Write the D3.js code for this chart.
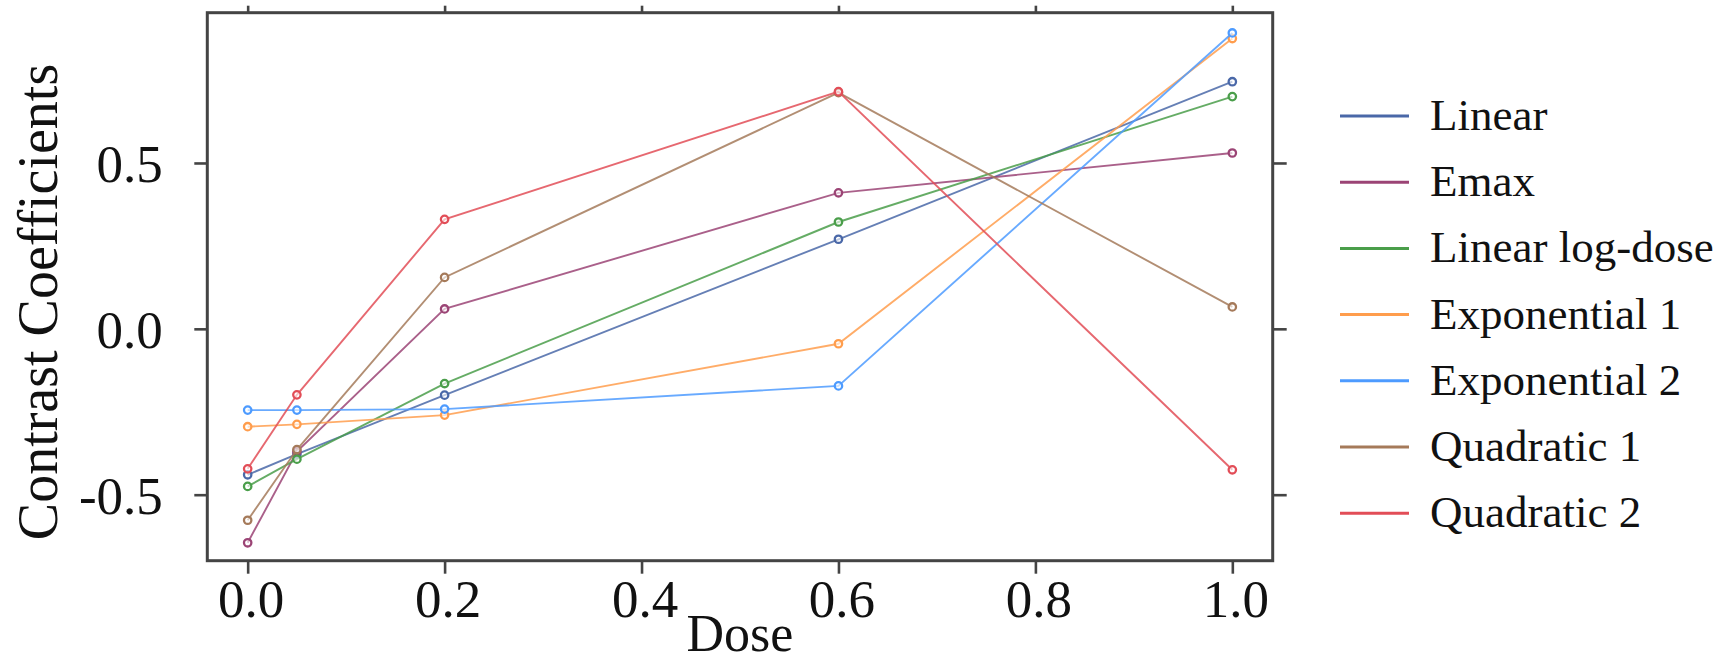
<!DOCTYPE html>
<html>
<head>
<meta charset="utf-8">
<script src="https://cdn.jsdelivr.net/npm/d3@7"></script>
<style>
  html, body { margin: 0; padding: 0; background: #fff; }
  svg { display: block; font-family: "Liberation Serif", "DejaVu Serif", serif; }
</style>
</head>
<body>
<svg id="chart"></svg>
<script>
const width = 1736;
const height = 664;

// doses and model contrast coefficients
const doses = [0, 0.05, 0.2, 0.6, 1.0];
const models = ["Linear", "Emax", "Linear log-dose", "Exponential 1", "Exponential 2", "Quadratic 1", "Quadratic 2"];
const linear = [-0.44, -0.378, -0.2, 0.27, 0.745];
const emax = [-0.645, -0.37, 0.06, 0.41, 0.53];
const linlog = [-0.475, -0.393, -0.165, 0.322, 0.70];
const expo1 = [-0.295, -0.288, -0.26, -0.045, 0.875];
const expo2 = [-0.245, -0.245, -0.242, -0.172, 0.892];
const quad1 = [-0.577, -0.364, 0.155, 0.712, 0.066];
const quad2 = [-0.422, -0.199, 0.33, 0.715, -0.425];
const colors = ["#4a68a8", "#9b4475", "#4a9e4a", "#ff9d4d", "#4d9bff", "#a57a5a", "#e24d57"];

const xTicks = [0, 0.2, 0.4, 0.6, 0.8, 1.0];
const yTicks = [-0.5, 0, 0.5];

const series = [linear, emax, linlog, expo1, expo2, quad1, quad2];

const margin = { top: 12.7, left: 207.3 };
const plotW = 1065.4;
const plotH = 548;

const svg = d3.select("#chart")
  .attr("width", width)
  .attr("height", height);

svg.append("rect")
  .attr("width", width)
  .attr("height", height)
  .attr("fill", "#fff");

const chart = svg.append("g")
  .attr("transform", `translate(${margin.left},${margin.top})`);

const x = d3.scaleLinear().domain([-0.041, 1.041]).range([0, plotW]);
const y = d3.scaleLinear().domain([-0.699, 0.953]).range([plotH, 0]);

const fmt = d => d.toFixed(1);

// axes (ticks on all four sides, labels bottom and left)
const bottom = chart.append("g")
  .attr("transform", `translate(0,${plotH})`)
  .call(d3.axisBottom(x).tickValues(xTicks).tickSize(13).tickFormat(fmt));
bottom.selectAll("text")
  .attr("y", 56)
  .attr("dy", null)
  .attr("x", 3);

const left = chart.append("g")
  .call(d3.axisLeft(y).tickValues(yTicks).tickSize(13).tickFormat(fmt));
left.selectAll("text")
  .attr("x", -44.5)
  .attr("dy", null)
  .attr("y", 19);

chart.append("g")
  .call(d3.axisTop(x).tickValues(xTicks).tickSize(7).tickFormat(""));

chart.append("g")
  .attr("transform", `translate(${plotW},0)`)
  .call(d3.axisRight(y).tickValues(yTicks).tickSize(14).tickFormat(""));

chart.selectAll(".domain").remove();
chart.selectAll(".tick line")
  .attr("stroke", "#444")
  .attr("stroke-width", 2.6);
chart.selectAll(".tick text")
  .attr("fill", "#111")
  .style("font-size", "53px")
  .style("font-family", "'Liberation Serif', serif");

chart.append("rect")
  .attr("width", plotW)
  .attr("height", plotH)
  .attr("fill", "none")
  .attr("stroke", "#444")
  .attr("stroke-width", 3);

// lines and open markers
const line = d3.line()
  .x((d, i) => x(doses[i]))
  .y(d => y(d));

series.forEach((vals, k) => {
  const g = chart.append("g");
  g.append("path")
    .datum(vals)
    .attr("d", line)
    .attr("fill", "none")
    .attr("stroke", colors[k])
    .attr("stroke-width", 1.9)
    .attr("stroke-opacity", 0.85);
  g.selectAll("circle")
    .data(vals)
    .join("circle")
    .attr("cx", (d, i) => x(doses[i]))
    .attr("cy", d => y(d))
    .attr("r", 3.7)
    .attr("fill", "#fff")
    .attr("fill-opacity", 0.6)
    .attr("stroke", colors[k])
    .attr("stroke-width", 2.3);
});

// axis titles
svg.append("text")
  .attr("x", margin.left + plotW / 2)
  .attr("y", 651)
  .attr("text-anchor", "middle")
  .attr("fill", "#111")
  .style("font-size", "52px")
  .text("Dose");

svg.append("text")
  .attr("transform", "translate(57,302) rotate(-90)")
  .attr("text-anchor", "middle")
  .attr("fill", "#111")
  .style("font-size", "56px")
  .text("Contrast Coefficients");

// legend
const legend = svg.append("g");
models.forEach((name, i) => {
  const ly = 116 + i * 66.2;
  legend.append("line")
    .attr("x1", 1340)
    .attr("x2", 1409)
    .attr("y1", ly)
    .attr("y2", ly)
    .attr("stroke", colors[i])
    .attr("stroke-width", 3);
  legend.append("text")
    .attr("x", 1430)
    .attr("y", ly + 14)
    .attr("fill", "#111")
    .style("font-size", "45px")
    .text(name);
});
</script>
</body>
</html>
